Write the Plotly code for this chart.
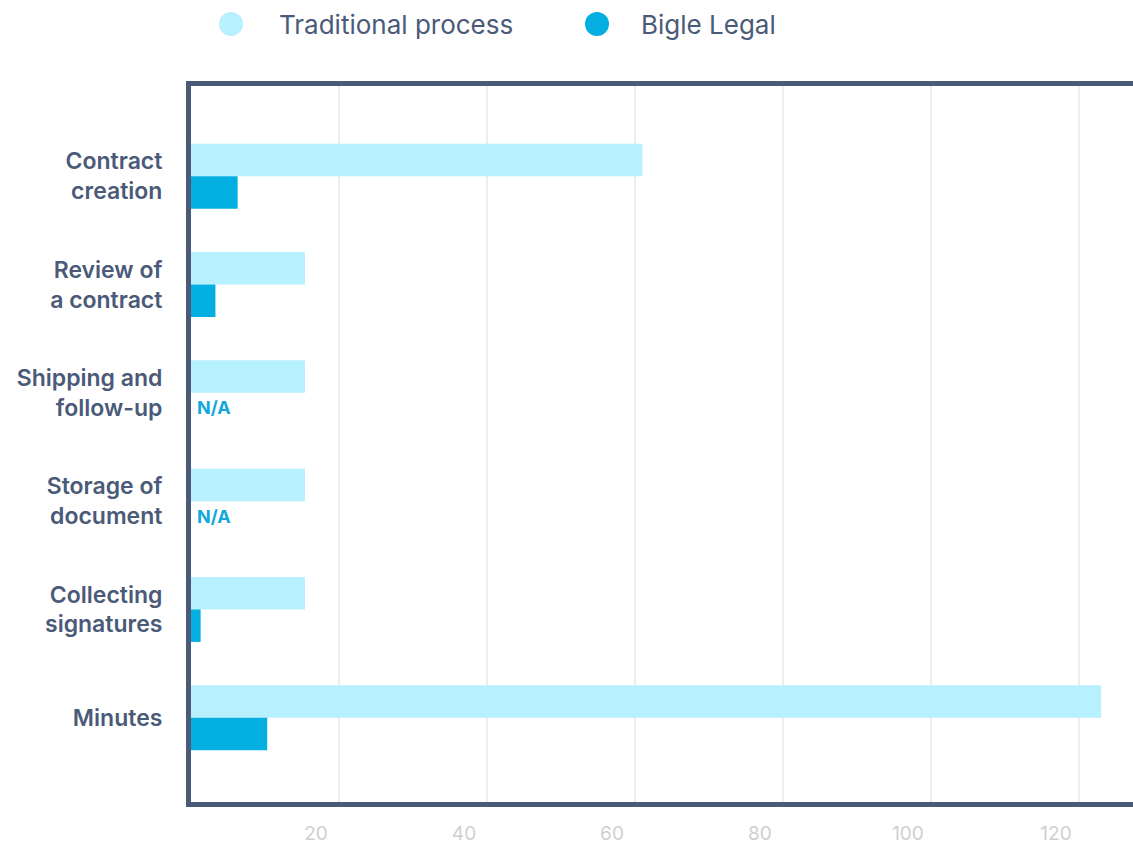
import plotly.graph_objects as go

categories = ["Contract<br>creation", "Review of<br>a contract", "Shipping and<br>follow-up",
              "Storage of<br>document", "Collecting<br>signatures", "Minutes"]
traditional = [61, 15.4, 15.4, 15.4, 15.4, 123]
bigle = [6.3, 3.3, None, None, 1.3, 10.3]
series_names = ["Traditional process", "Bigle Legal"]
tick_values = [20, 40, 60, 80, 100, 120]

C_TRAD = "#b7f0fe"
C_BIGLE = "#03aee0"
C_TEXT = "#4a5a78"
FONT = "Inter"

fig = go.Figure()
fig.add_trace(go.Bar(y=categories, x=traditional, orientation="h", name=series_names[0],
                     marker=dict(color=C_TRAD, line=dict(width=0)), showlegend=False))
fig.add_trace(go.Bar(y=categories, x=[v if v is not None else 0 for v in bigle], orientation="h",
                     name=series_names[1], marker=dict(color=C_BIGLE, line=dict(width=0)),
                     showlegend=False))

# N/A labels
for cat, v in zip(categories, bigle):
    if v is None:
        fig.add_annotation(x=0, y=cat, xref="x", yref="y", text="<b>N/A</b>", showarrow=False,
                           xanchor="left", yanchor="middle", xshift=4, yshift=-15,
                           font=dict(family=FONT, size=18, color="#12a8dc"))

# custom legend
legend_items = [(series_names[0], C_TRAD, 40, 86), (series_names[1], C_BIGLE, 406, 448)]
for name, col, cx, tx in legend_items:
    fig.add_shape(type="circle", xref="paper", yref="paper", xsizemode="pixel", ysizemode="pixel",
                  xanchor=0, yanchor=1, x0=cx - 12, x1=cx + 12, y0=62 - 12, y1=62 + 12,
                  fillcolor=col, line=dict(width=0))
    fig.add_annotation(x=0, y=1, xref="paper", yref="paper", text=name, showarrow=False,
                       xanchor="left", yanchor="middle", xshift=tx, yshift=62,
                       font=dict(family=FONT, size=26, color=C_TEXT))

fig.update_layout(
    width=1133, height=845,
    margin=dict(l=191, r=0, t=86, b=37),
    paper_bgcolor="white", plot_bgcolor="white",
    barmode="group", bargap=0.4, bargroupgap=0,
    font=dict(family=FONT, color=C_TEXT),
)
fig.update_xaxes(range=[0, 127.3], tickvals=tick_values, showgrid=True, gridcolor="#eeeeee",
                 gridwidth=2, zeroline=False, showline=True, linecolor=C_TEXT, linewidth=5,
                 mirror=True, ticks="", tickfont=dict(family=FONT, size=19, color="#cfcfcf"),
                 ticklabelshift=-23, ticklabelstandoff=10)
fig.update_yaxes(range=[5.778, -0.833], showgrid=False, zeroline=False, showline=True,
                 linecolor=C_TEXT, linewidth=5, ticks="", ticklabelstandoff=19,
                 tickfont=dict(family=FONT, size=23, color=C_TEXT, weight=600))

fig.write_html("out.html", config={"displayModeBar": False},
               post_script="document.body.style.margin='0';")
